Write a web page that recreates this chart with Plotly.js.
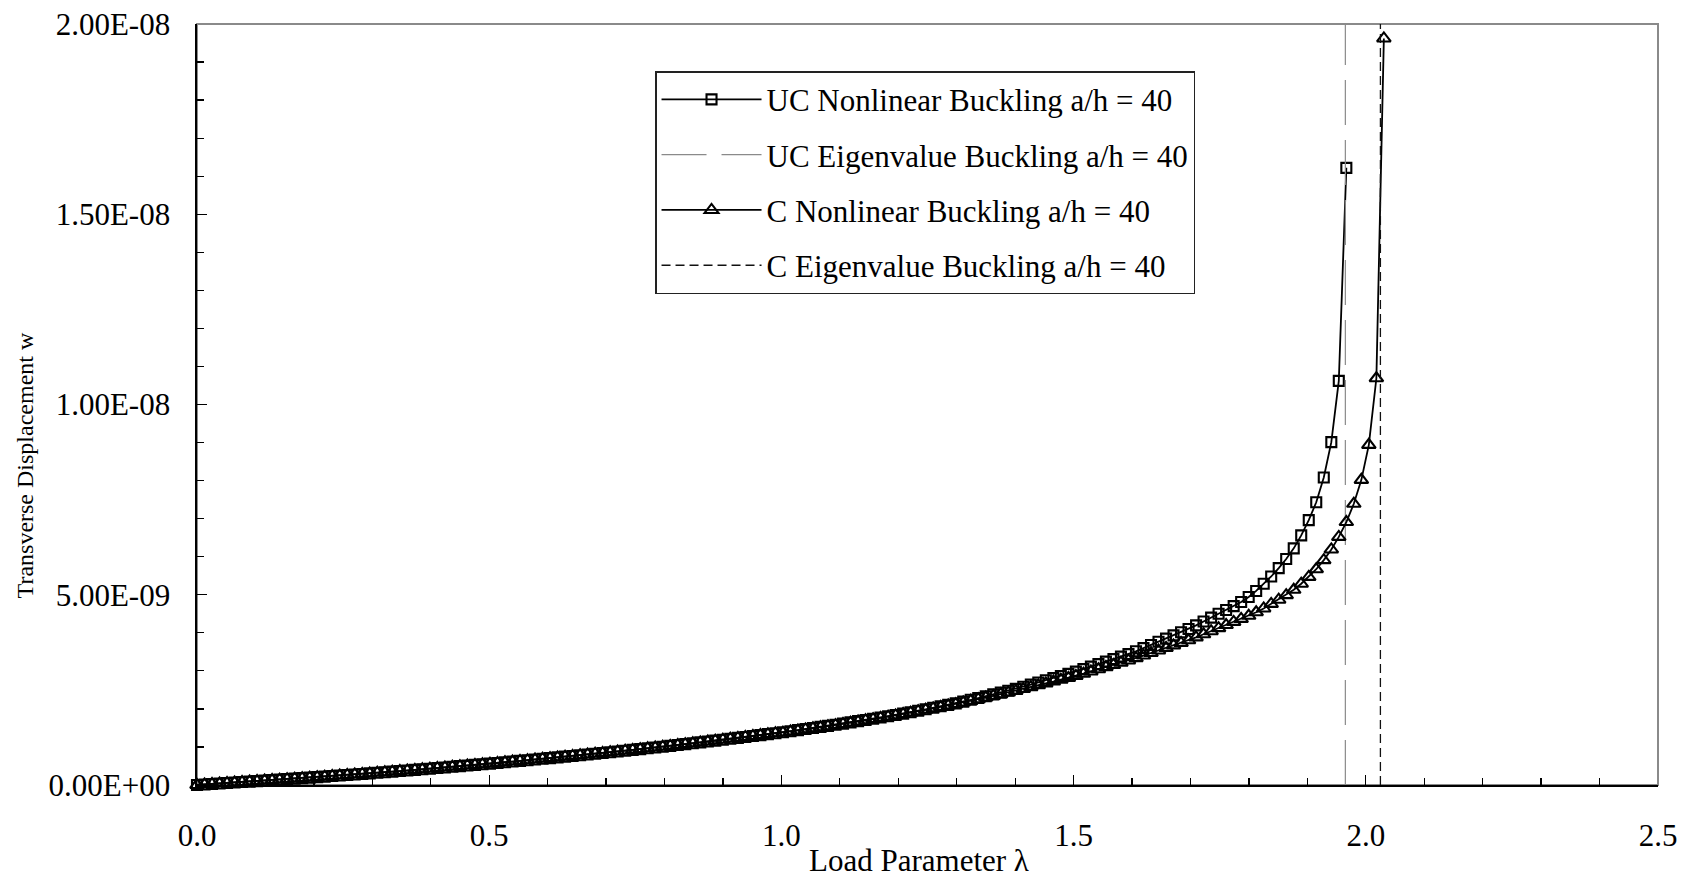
<!DOCTYPE html>
<html><head><meta charset="utf-8">
<script src="https://cdn.plot.ly/plotly-3.0.1.min.js"></script>
<style>html,body{margin:0;padding:0;background:#fff}#chart{width:1682px;height:879px}</style>
</head><body><div id="chart"></div>
<script>
// Load parameter lambda at each load step
const loadSteps = [
0.0000,0.0129,0.0257,0.0386,0.0514,0.0643,0.0771,0.0900,0.1028,0.1157,
0.1285,0.1414,0.1542,0.1671,0.1800,0.1928,0.2057,0.2185,0.2314,0.2442,
0.2571,0.2699,0.2828,0.2956,0.3085,0.3214,0.3342,0.3471,0.3599,0.3728,
0.3856,0.3985,0.4113,0.4242,0.4370,0.4499,0.4627,0.4756,0.4885,0.5013,
0.5142,0.5270,0.5399,0.5527,0.5656,0.5784,0.5913,0.6041,0.6170,0.6298,
0.6427,0.6556,0.6684,0.6813,0.6941,0.7070,0.7198,0.7327,0.7455,0.7584,
0.7712,0.7841,0.7969,0.8098,0.8227,0.8355,0.8484,0.8612,0.8741,0.8869,
0.8998,0.9126,0.9255,0.9383,0.9512,0.9641,0.9769,0.9898,1.0026,1.0155,
1.0283,1.0412,1.0540,1.0669,1.0797,1.0926,1.1054,1.1183,1.1312,1.1440,
1.1569,1.1697,1.1826,1.1954,1.2083,1.2211,1.2340,1.2468,1.2597,1.2725,
1.2854,1.2983,1.3111,1.3240,1.3368,1.3497,1.3625,1.3754,1.3882,1.4011,
1.4139,1.4268,1.4396,1.4525,1.4654,1.4782,1.4911,1.5039,1.5168,1.5296,
1.5425,1.5553,1.5682,1.5810,1.5939,1.6068,1.6196,1.6325,1.6453,1.6582,
1.6710,1.6839,1.6967,1.7096,1.7224,1.7353,1.7481,1.7610,1.7739,1.7867,
1.7996,1.8124,1.8253,1.8381,1.8510,1.8638,1.8767,1.8895,1.9024,1.9152,
1.9281,1.9410,1.9538,1.9667,1.9795,1.9924,2.0052,2.0181,2.0309];

// Transverse displacement w, in units of 1e-9
const wUC_e9 = [
0.000,0.013,0.026,0.039,0.051,0.064,0.077,0.090,
0.103,0.116,0.129,0.141,0.154,0.167,0.180,0.193,
0.206,0.220,0.235,0.249,0.263,0.277,0.291,0.305,
0.320,0.336,0.351,0.367,0.382,0.397,0.413,0.428,
0.445,0.461,0.478,0.495,0.512,0.528,0.545,
0.562,0.580,0.598,0.616,0.634,0.652,0.670,0.688,
0.706,0.726,0.745,0.764,0.783,0.803,0.822,0.841,
0.861,0.882,0.902,0.923,0.943,0.964,0.985,1.005,
1.028,1.051,1.074,1.097,1.120,1.143,1.166,1.190,
1.214,1.238,1.263,1.287,1.312,1.336,1.361,
1.386,1.414,1.442,1.471,1.499,1.527,1.555,1.584,
1.614,1.646,1.678,1.710,1.742,1.774,1.807,1.839,
1.875,1.913,1.952,1.990,2.029,2.068,2.106,2.145,
2.191,2.239,2.286,2.334,2.381,2.429,2.476,
2.525,2.581,2.638,2.694,2.751,2.808,2.864,2.921,
2.980,3.046,3.111,3.177,3.242,3.308,3.373,3.439,
3.514,3.597,3.681,3.764,3.848,3.932,4.015,4.099,
4.196,4.297,4.399,4.500,4.600,4.700,4.810,4.940,
5.100,5.290,5.480,5.700,5.940,6.220,6.560,6.960,
7.430,8.080,9.010,10.620,16.220];

const wC_e9 = [
0.000,0.013,0.026,0.039,0.051,0.064,0.077,0.090,
0.103,0.116,0.129,0.141,0.154,0.167,0.180,0.193,
0.206,0.220,0.235,0.249,0.263,0.277,0.291,0.305,
0.320,0.336,0.351,0.367,0.382,0.397,0.413,0.428,
0.445,0.461,0.478,0.495,0.512,0.528,0.545,
0.562,0.580,0.598,0.616,0.634,0.652,0.670,0.688,
0.706,0.726,0.745,0.764,0.783,0.803,0.822,0.841,
0.861,0.882,0.902,0.923,0.943,0.964,0.985,1.005,
1.028,1.051,1.074,1.097,1.120,1.143,1.166,1.190,
1.214,1.238,1.263,1.287,1.312,1.336,1.361,
1.376,1.404,1.432,1.461,1.489,1.517,1.545,1.574,
1.604,1.636,1.668,1.700,1.732,1.764,1.797,1.829,
1.864,1.901,1.939,1.976,2.013,2.050,2.088,2.125,
2.168,2.212,2.255,2.299,2.343,2.386,2.430,
2.474,2.523,2.572,2.620,2.670,2.719,2.767,2.816,
2.868,2.926,2.983,3.041,3.099,3.157,3.215,3.273,
3.335,3.402,3.469,3.536,3.603,3.669,3.736,3.803,
3.880,3.961,4.042,4.123,4.204,4.286,4.366,4.447,
4.540,4.640,4.760,4.870,4.990,5.130,5.290,5.470,
5.670,5.910,6.190,6.520,6.910,7.390,8.020,8.940,10.690,19.620];

const ucEigLambda = [1.965, 1.965];
const cEigLambda = [2.025, 2.025];
const eigW = [0, 2.0e-8];

const seriesNames = [
  'UC Nonlinear Buckling a/h = 40',
  'UC Eigenvalue Buckling a/h = 40',
  'C Nonlinear Buckling a/h = 40',
  'C Eigenvalue Buckling a/h = 40'
];

const xTickVals = [0, 0.5, 1.0, 1.5, 2.0, 2.5];
const xTickText = ['0.0', '0.5', '1.0', '1.5', '2.0', '2.5'];
const yTickVals = [0, 5e-9, 1e-8, 1.5e-8, 2e-8];
const yTickText = ['0.00E+00', '5.00E-09', '1.00E-08', '1.50E-08', '2.00E-08'];

const E9 = 1e-9;
const FONT = 'Liberation Serif, Times New Roman, serif';

const traces = [
  {
    name: seriesNames[0], legendgroup: 'a',
    x: loadSteps.slice(0, wUC_e9.length), y: wUC_e9.map(v => v * E9),
    mode: 'lines+markers', cliponaxis: false,
    line: {color: '#000', width: 1.8},
    marker: {symbol: 'square-open', size: 10, color: '#000', line: {color: '#000', width: 2.1}}
  },
  {
    name: seriesNames[1], legendgroup: 'b',
    x: ucEigLambda, y: eigW, mode: 'lines',
    line: {color: '#8a8a8a', width: 1.2, dash: '45px,15px'}
  },
  {
    name: seriesNames[2], legendgroup: 'c',
    x: loadSteps.slice(0, wC_e9.length), y: wC_e9.map(v => v * E9),
    mode: 'lines+markers', cliponaxis: false,
    line: {color: '#000', width: 1.8},
    marker: {symbol: 'triangle-up-open', size: 12, color: '#000', line: {color: '#000', width: 2.1}}
  },
  {
    name: seriesNames[3], legendgroup: 'd',
    x: cEigLambda, y: eigW, mode: 'lines',
    line: {color: '#111', width: 1.3, dash: '9px,5px'}
  }
];

const axisCommon = {
  showgrid: false, zeroline: false, showline: true,
  linecolor: '#000', linewidth: 1.6,
  ticks: 'inside', ticklen: 10, tickwidth: 1.3, tickcolor: '#000',
  tickfont: {family: FONT, size: 31, color: '#000'}
};

const layout = {
  width: 1682, height: 879,
  margin: {l: 197, r: 24, t: 24, b: 94, pad: 0},
  paper_bgcolor: '#fff', plot_bgcolor: '#fff',
  font: {family: FONT, size: 31, color: '#000'},
  showlegend: true,
  xaxis: Object.assign({}, axisCommon, {
    range: [0, 2.5], tickmode: 'array', tickvals: xTickVals, ticktext: xTickText,
    ticklabelstandoff: 22,
    minor: {tickmode: 'linear', tick0: 0, dtick: 0.1, ticks: 'inside', ticklen: 7, tickwidth: 1.3, tickcolor: '#000', showgrid: false}
  }),
  yaxis: Object.assign({}, axisCommon, {
    range: [0, 2e-8], tickmode: 'array', tickvals: yTickVals, ticktext: yTickText,
    ticklabelstandoff: 19,
    minor: {tickmode: 'linear', tick0: 0, dtick: 1e-9, ticks: 'inside', ticklen: 7, tickwidth: 1.3, tickcolor: '#000', showgrid: false}
  }),
  legend: {
    x: 0.3135, y: 0.938, xanchor: 'left', yanchor: 'top',
    bgcolor: '#fff', bordercolor: '#222', borderwidth: 1.5,
    font: {family: FONT, size: 31, color: '#000'},
    itemwidth: 100, traceorder: 'grouped', tracegroupgap: 12
  },
  shapes: [{
    type: 'rect', xref: 'paper', yref: 'paper', x0: 0, x1: 1, y0: 0, y1: 1,
    line: {color: '#8a8a8a', width: 2}, layer: 'below'
  }],
  annotations: [
    {text: 'Load Parameter λ', xref: 'paper', yref: 'paper', x: 0.4945, y: -0.099,
     xanchor: 'center', yanchor: 'middle', showarrow: false, borderpad: 0,
     font: {family: FONT, size: 31, color: '#000'}},
    {text: 'Transverse Displacement w', xref: 'paper', yref: 'paper', x: -0.1177, y: 0.42,
     xanchor: 'center', yanchor: 'middle', showarrow: false, textangle: -90,
     font: {family: FONT, size: 24, color: '#000'}}
  ]
};

Plotly.newPlot('chart', traces, layout, {displayModeBar: false, staticPlot: true});
</script>
</body></html>
